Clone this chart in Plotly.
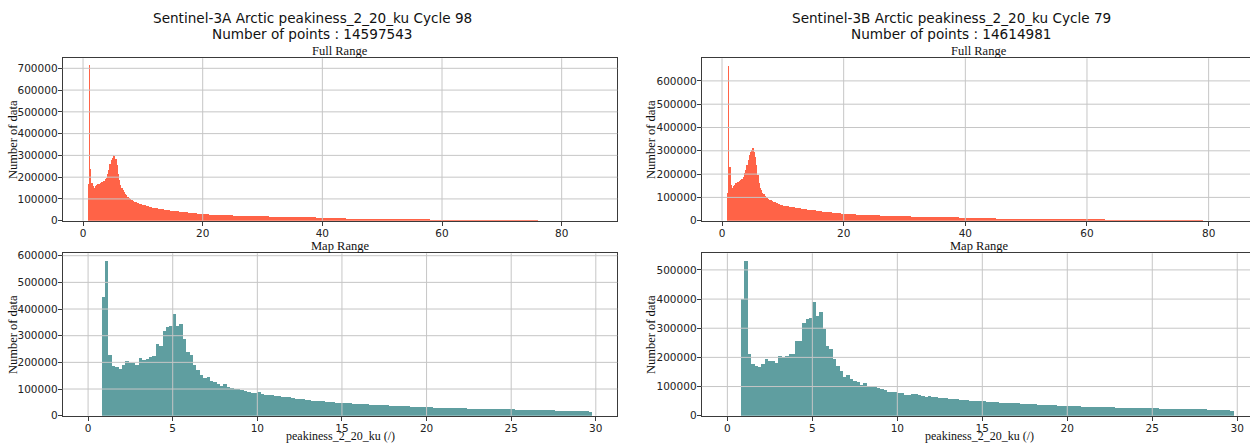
import numpy as np
import plotly.graph_objects as go

# ---------------- data ----------------
titles_left = ["Sentinel-3A Arctic peakiness_2_20_ku Cycle 98", "Number of points : 14597543"]
titles_right = ["Sentinel-3B Arctic peakiness_2_20_ku Cycle 79", "Number of points : 14614981"]
panel_titles = ["Full Range", "Map Range"]
y_label = "Number of data"
x_label = "peakiness_2_20_ku (/)"

full_x_ticks = [0, 20, 40, 60, 80]
map_x_ticks = [0, 5, 10, 15, 20, 25, 30]
y_ticks_full_a = [0, 100000, 200000, 300000, 400000, 500000, 600000, 700000]
y_ticks_full_b = [0, 100000, 200000, 300000, 400000, 500000, 600000]
y_ticks_map_a = [0, 100000, 200000, 300000, 400000, 500000, 600000]
y_ticks_map_b = [0, 100000, 200000, 300000, 400000, 500000]

# Full-range histogram bins: fine (0.2) from 0.8 to 10, medium (0.5) to 20, coarse (1) beyond
full_fine_start, full_fine_step = 0.8, 0.2
full_mid_step = 0.5
full_coarse_step = 1.0

s3a_full_fine = [168000, 715000, 237000, 175000, 160000, 152000, 160000, 165000, 168000, 170000,
                 172000, 176000, 180000, 184000, 190000, 198000, 215000, 235000, 260000, 280000,
                 290000, 303000, 298000, 285000, 255000, 215000, 185000, 165000, 150000, 140000,
                 130000, 122000, 116000, 110000, 105000, 101000, 97000, 93000, 90000, 87000,
                 85000, 82000, 80000, 77000, 75000, 73000]
s3a_full_mid = [71000, 67000, 63000, 60000, 57000, 54500, 52000, 50000, 48000, 46500,
                45000, 43000, 41000, 39500, 38000, 36500, 35000, 33500, 32500, 31000]
s3a_full_coarse = [30000, 28500, 27000, 26000, 24500, 23500, 22500, 21500, 21000, 20500,
                   20000, 19000, 18500, 18000, 17500, 17000, 16000, 15500, 15000, 14000,
                   12000, 11500, 11000, 10500, 10000, 9500, 9000, 8500, 7500, 7200,
                   7000, 6800, 6600, 6400, 6200, 6000, 5800, 5600, 5200, 5100,
                   5000, 5000, 4900, 4900, 4800, 4800, 4700, 4700, 4600, 4600,
                   4500, 4500, 4400, 4400, 4300, 4200, 900, 300, 200, 150,
                   100, 100, 80, 60, 50]

s3b_full_fine = [117000, 665000, 229000, 153000, 141000, 150000, 153000, 160000, 164000, 167000,
                 170000, 174000, 181000, 189000, 203000, 217000, 239000, 260000, 281000, 293000,
                 303000, 312000, 296000, 274000, 239000, 196000, 160000, 141000, 131000, 121000,
                 113000, 107000, 101000, 98000, 94000, 90000, 87000, 84000, 81000, 79000,
                 76000, 74000, 72000, 70000, 68000, 66000]
s3b_full_mid = [65000, 62000, 59500, 57000, 55000, 53000, 51000, 49500, 47500, 46000,
                44500, 43000, 41000, 39500, 38000, 36500, 35000, 33500, 32000, 30500]
s3b_full_coarse = [29000, 27500, 26000, 25000, 24000, 23000, 22000, 21000, 20500, 19500,
                   19000, 18000, 17500, 17000, 16500, 16000, 15000, 14500, 14000, 13500,
                   11500, 11000, 10500, 10000, 9500, 9000, 8500, 8000, 7800, 7500,
                   7200, 7000, 6800, 6200, 6000, 5900, 5800, 5700, 5600, 5500,
                   5400, 5300, 5200, 5100, 5000, 5000, 4900, 4900, 4800, 4800,
                   4700, 4700, 4600, 4600, 4500, 4500, 4400, 4300, 900, 200,
                   100, 60]

# Map-range histogram: bins of 0.2 from 0.8 to 29.8
map_start, map_step = 0.8, 0.2
s3a_map = [446000, 581000, 226000, 187500, 184000, 174000, 190000, 204000, 199000, 199000,
           190000, 215000, 209000, 214000, 220000, 225000, 268000, 261000, 319000, 331000,
           336000, 381000, 336000, 344000, 289000, 240000, 229000, 190000, 171000, 152000,
           140000, 144000, 131000, 125000, 119000, 112500, 117500, 109000, 104000, 99000,
           100000, 97500, 92500, 90000, 86000, 85000,
           87500, 82500, 79000, 77500, 76000, 74000, 75000, 71000, 70000, 69000,
           66000, 64500, 62000, 61000, 59500, 57500, 56500, 56000, 55000, 54000,
           53000, 51500, 51000, 49500, 48500, 48000, 47000, 46500, 45500, 45000,
           44000, 44500, 43000, 42000, 41500, 40500, 40000, 39500, 38500, 38000,
           37500, 37000, 36000, 35500, 35000, 34500, 34000, 33500, 32500, 32000,
           31500, 31000, 30500, 30500, 30000, 29500, 29000, 28500, 28500, 28000,
           27500, 27500, 27000, 26500, 26500, 26000, 26000, 25500, 25000, 25000,
           24500, 24500, 24000, 24000, 23500, 23500, 23000, 23000, 22500, 22000,
           22000, 21500, 21500, 21000, 21000, 20500, 20000, 20000, 19500, 19500,
           19000, 19000, 18500, 18000, 18000, 17500, 17000, 16500, 15500]
s3b_map = [400000, 531000, 210000, 177000, 171000, 166000, 179000, 193000, 186000, 189000,
           182000, 205000, 200000, 205000, 211000, 213000, 256000, 257000, 317000, 330000,
           336000, 389000, 343000, 354000, 297000, 240000, 230000, 193000, 171000, 154000,
           134000, 139000, 127000, 120000, 114000, 106000, 113000, 103000, 97000, 99000,
           96000, 93000, 88000, 83000, 83000, 81000,
           79000, 77000, 72000, 71000, 73000, 74000, 70000, 67000, 65000, 66000,
           64000, 63000, 62000, 60500, 59500, 58500, 57000, 56000, 55000, 54000,
           53000, 52000, 51500, 50500, 49500, 50000, 48500, 47500, 47000, 46000,
           45000, 44500, 44000, 43000, 42500, 42000, 41000, 40500, 40000, 39500,
           39000, 38000, 37500, 37000, 36500, 36000, 35500, 35000, 34500, 34000,
           33500, 33000, 32500, 32000, 31500, 31000, 31500, 30500, 30000, 29500,
           29000, 29000, 28500, 28500, 28000, 28000, 27500, 27500, 27000, 27000,
           26500, 26500, 26000, 26000, 25500, 25000, 25000, 24500, 24500, 24000,
           24000, 23500, 23500, 23000, 23000, 22500, 22000, 22500, 22000, 21500,
           21500, 21000, 21000, 20500, 20500, 20000, 19500, 19000, 17500]

FULL_COLOR = "#FF6347"
MAP_COLOR = "#5F9EA0"

# ---------------- helpers ----------------
def full_bins(fine, mid, coarse):
    edges = list(np.round(np.arange(len(fine) + 1) * full_fine_step + full_fine_start, 6))
    e = edges[-1]
    for _ in mid:
        e = round(e + full_mid_step, 6)
        edges.append(e)
    for _ in coarse:
        e = round(e + full_coarse_step, 6)
        edges.append(e)
    edges = np.array(edges)
    counts = list(fine) + list(mid) + list(coarse)
    return (edges[:-1] + edges[1:]) / 2, np.diff(edges), counts


def map_bins(counts):
    edges = np.round(np.arange(len(counts) + 1) * map_step + map_start, 6)
    return (edges[:-1] + edges[1:]) / 2, np.diff(edges), counts


W, H = 1250, 444
def fx(px):
    return px / W
def fy(py):
    return 1 - py / H

# panel pixel boxes
LX = (62.7, 617.3)
RX = (701.7, 1250.0)
TOP = (58.3, 220.7)
BOT = (253.3, 415.7)

fig = go.Figure()

panels = [
    ("", LX, TOP, full_bins(s3a_full_fine, s3a_full_mid, s3a_full_coarse), FULL_COLOR,
     [-3.4, 89.3], [0, 746000], full_x_ticks, y_ticks_full_a, False),
    ("2", LX, BOT, map_bins(s3a_map), MAP_COLOR,
     [-1.50, 31.27], [0, 609000], map_x_ticks, y_ticks_map_a, False),
    ("3", RX, TOP, full_bins(s3b_full_fine, s3b_full_mid, s3b_full_coarse), FULL_COLOR,
     [-3.34, 86.8], [0, 697000], full_x_ticks, y_ticks_full_b, True),
    ("4", RX, BOT, map_bins(s3b_map), MAP_COLOR,
     [-1.51, 30.75], [0, 557000], map_x_ticks, y_ticks_map_b, True),
]

GRID = "#c6c6c6"
SPINE = "#3a3a3a"
tickfont = dict(family="DejaVu Sans", size=10.5, color="#222222")

for suf, xb, yb, (centers, widths, counts), color, xr, yr, xt, yt, right in panels:
    xa = "x" + suf
    ya = "y" + suf
    fig.add_trace(go.Bar(x=centers, y=counts, width=widths, marker=dict(color=color, line=dict(width=0)),
                         xaxis=xa, yaxis=ya, showlegend=False, hoverinfo="skip"))
    fig.layout["xaxis" + suf] = dict(
        domain=[fx(xb[0]), fx(xb[1])], anchor=ya, range=xr, tickvals=xt, ticktext=[str(v) for v in xt],
        showgrid=False, zeroline=False, showline=True, mirror=True, linecolor=SPINE, linewidth=1,
        ticks="outside", ticklen=4, tickcolor=SPINE, tickfont=tickfont, automargin=False, fixedrange=True,
        ticklabelstandoff=-1)
    fig.layout["yaxis" + suf] = dict(
        domain=[fy(yb[1]), fy(yb[0])], anchor=xa, range=yr, tickvals=yt, ticktext=[str(v) for v in yt],
        showgrid=False, zeroline=False, showline=True, mirror=(not right), linecolor=SPINE, linewidth=1,
        ticks="outside", ticklen=4, tickcolor=SPINE, tickfont=tickfont, automargin=False, fixedrange=True,
        ticklabelstandoff=-2)
    for v in xt:
        fig.add_shape(type="line", xref=xa, yref=ya + " domain", x0=v, x1=v, y0=0, y1=1,
                      line=dict(color=GRID, width=1), layer="above")
    for v in yt[1:]:
        fig.add_shape(type="line", xref=xa + " domain", yref=ya, x0=0, x1=1, y0=v, y1=v,
                      line=dict(color=GRID, width=1), layer="above")

# ---------------- text ----------------
serif = dict(family="Liberation Serif, Times New Roman, serif", size=12.5, color="#111111")
serif_x = dict(family="Liberation Serif, Times New Roman, serif", size=12, color="#111111")
sans_title = dict(family="DejaVu Sans", size=13.6, color="#111111")

def ann(text, x, y, font, angle=0):
    fig.add_annotation(text=text, x=fx(x), y=fy(y), xref="paper", yref="paper", showarrow=False,
                       xanchor="center", yanchor="middle", font=font, textangle=angle, borderpad=0)

ann(titles_left[0], 312.5, 18, sans_title)
ann(titles_left[1], 312.5, 34, sans_title)
ann(titles_right[0], 951, 18, sans_title)
ann(titles_right[1], 951, 34, sans_title)

for cx in (340.0, 979.0):
    ann(panel_titles[0], cx, 51, serif)
    ann(panel_titles[1], cx, 246, serif)
    ann(x_label, cx, 436, serif_x)
for lx in (12.5, 650.5):
    ann(y_label, lx, (TOP[0] + TOP[1]) / 2, serif, -90)
    ann(y_label, lx, (BOT[0] + BOT[1]) / 2, serif, -90)

fig.update_layout(width=W, height=H, autosize=False, margin=dict(l=0, r=0, t=0, b=0, pad=0, autoexpand=False),
                  plot_bgcolor="white", paper_bgcolor="white", bargap=0)

fig.write_html(
    "out.html",
    config={"displayModeBar": False, "staticPlot": True},
    post_script=("document.documentElement.style.margin='0px';document.body.style.margin='0px';"
                 "document.documentElement.style.overflow='hidden';document.body.style.overflow='hidden';"),
)
